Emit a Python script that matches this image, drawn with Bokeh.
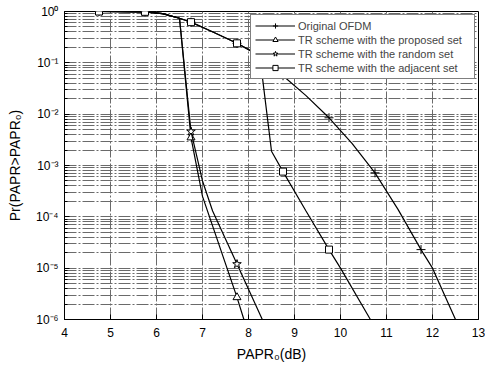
from bokeh.plotting import figure
from bokeh.models import Range1d, FixedTicker, Legend, LegendItem
from bokeh.embed import file_html
from bokeh.resources import INLINE

# ---- data ----
orig_x = [4.0, 4.75, 5.25, 5.75, 6.13, 6.5, 6.75, 7.25, 7.75, 8.11, 8.75, 9.25, 9.75,
          10.25, 10.75, 11.25, 11.75, 12.0, 12.5]
orig_y = [1.0, 1.0, 0.995, 0.986, 0.91, 0.74, 0.62, 0.39, 0.24, 0.16, 0.056, 0.023, 0.0085,
          0.0027, 7.2e-4, 1.4e-4, 2.3e-5, 1.0e-5, 1.0e-6]
orig_mx = [4.75, 5.75, 6.75, 7.75, 8.75, 9.75, 10.75, 11.75]
orig_my = [1.0, 0.986, 0.62, 0.24, 0.056, 0.0085, 7.2e-4, 2.3e-5]

prop_x = [4.0, 4.75, 5.25, 5.75, 6.13, 6.5, 6.75, 7.0, 7.75, 7.9]
prop_y = [1.0, 1.0, 0.995, 0.986, 0.91, 0.74, 3.5e-3, 2.5e-4, 2.7e-6, 1.0e-6]
prop_mx = [4.75, 5.75, 6.75, 7.75]
prop_my = [1.0, 0.986, 3.5e-3, 2.7e-6]

rand_x = [4.0, 4.75, 5.25, 5.75, 6.13, 6.5, 6.75, 7.0, 7.22, 7.75, 8.3]
rand_y = [1.0, 1.0, 0.995, 0.986, 0.91, 0.74, 4.6e-3, 5.0e-4, 1.3e-4, 1.2e-5, 1.0e-6]
rand_mx = [4.75, 5.75, 6.75, 7.75]
rand_my = [1.0, 0.986, 4.6e-3, 1.2e-5]

adj_x = [4.0, 4.75, 5.25, 5.75, 6.13, 6.5, 6.75, 7.25, 7.75, 8.11, 8.25, 8.5, 8.75,
         9.25, 9.75, 10.0, 10.65]
adj_y = [1.0, 1.0, 0.995, 0.986, 0.91, 0.74, 0.62, 0.39, 0.24, 0.16, 0.126, 1.9e-3, 7.6e-4,
         1.3e-4, 2.3e-5, 1.0e-5, 1.0e-6]
adj_mx = [4.75, 5.75, 6.75, 7.75, 8.75, 9.75]
adj_my = [1.0, 0.986, 0.62, 0.24, 7.6e-4, 2.3e-5]

x_ticks = [4, 5, 6, 7, 8, 9, 10, 11, 12, 13]
y_ticks = [1e-6, 1e-5, 1e-4, 1e-3, 1e-2, 1e-1, 1.0]
y_tick_labels = ["10\u207b\u2076", "10\u207b\u2075", "10\u207b\u2074", "10\u207b\u00b3",
                 "10\u207b\u00b2", "10\u207b\u00b9", "10\u2070"]
y_minor = [m * d for d in [1e-6, 1e-5, 1e-4, 1e-3, 1e-2, 1e-1] for m in [2, 3, 4, 5, 6, 7, 8, 9]]

labels = ["Original OFDM", "TR scheme with the proposed set",
          "TR scheme with the random set", "TR scheme with the adjacent set"]

FONT = "Liberation Sans"

p = figure(width=485, height=366, x_range=Range1d(4, 13), y_range=Range1d(1e-6, 1.0),
           y_axis_type="log", output_backend="svg", toolbar_location=None,
           min_border_left=64, min_border_right=7, min_border_top=11, min_border_bottom=47)
p.background_fill_color = "white"
p.border_fill_color = "white"
p.outline_line_color = "black"
p.outline_line_width = 1

xt = FixedTicker(ticks=x_ticks, minor_ticks=[])
yt = FixedTicker(ticks=y_ticks, minor_ticks=y_minor)
p.xaxis.ticker = xt
p.yaxis.ticker = yt
p.xgrid.ticker = xt
p.ygrid.ticker = yt
p.yaxis.major_label_overrides = {t: s for t, s in zip(y_ticks, y_tick_labels)}

for g in (p.xgrid, p.ygrid):
    g.grid_line_color = "#6a6a6a"
    g.grid_line_dash = "12 2 2 2"
    g.grid_line_width = 1
p.ygrid.minor_grid_line_color = "#6a6a6a"
p.ygrid.minor_grid_line_dash = "12 2 2 2"

for ax in (p.xaxis, p.yaxis):
    ax.axis_line_color = "black"
    ax.major_tick_in = 5
    ax.major_tick_out = 0
    ax.minor_tick_in = 3
    ax.minor_tick_out = 0
    ax.major_tick_line_color = "black"
    ax.minor_tick_line_color = "black"
    ax.major_label_text_font = FONT
    ax.major_label_text_font_size = "12px"
    ax.major_label_text_color = "black"
    ax.axis_label_text_font = FONT
    ax.axis_label_text_font_size = "14px"
    ax.axis_label_text_font_style = "normal"
    ax.axis_label_text_color = "black"

p.xaxis.axis_label = "PAPR\u2080(dB)"
p.yaxis.axis_label = "Pr(PAPR>PAPR\u2080)"
p.xaxis.major_label_standoff = 8
p.yaxis.major_label_standoff = 6
p.xaxis.axis_label_standoff = 6
p.yaxis.axis_label_standoff = 10

series = [
    (orig_x, orig_y, orig_mx, orig_my, "cross", 9),
    (prop_x, prop_y, prop_mx, prop_my, "triangle", 8),
    (rand_x, rand_y, rand_mx, rand_my, "star", 9),
    (adj_x, adj_y, adj_mx, adj_my, "square", 7),
]

items = []
for (xs, ys, mx, my, mk, sz), lab in zip(series, labels):
    r1 = p.line(xs, ys, line_color="black", line_width=1.2)
    r2 = p.scatter(mx, my, marker=mk, size=sz, fill_color="white",
                   line_color="black", line_width=1)
    items.append(LegendItem(label=lab, renderers=[r1, r2]))

legend = Legend(items=items, location="top_right")
legend.margin = 3
legend.padding = 4
legend.spacing = 1
legend.glyph_width = 40
legend.glyph_height = 13
legend.label_height = 13
legend.label_width = 172
legend.label_standoff = 3
legend.label_text_font = FONT
legend.label_text_font_size = "11px"
legend.border_line_color = "black"
legend.border_line_width = 1
legend.background_fill_color = "white"
legend.background_fill_alpha = 1.0
p.add_layout(legend, "center")

open("out.html", "w").write(file_html(p, INLINE))
